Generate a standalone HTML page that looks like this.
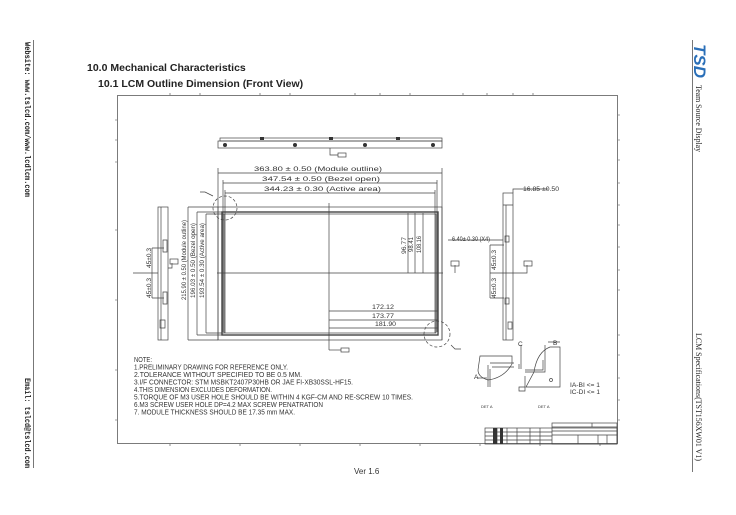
<!DOCTYPE html>
<html><head><meta charset="utf-8"><style>
html,body{margin:0;padding:0;background:#fff;}
body{width:736px;height:515px;overflow:hidden;position:relative;font-family:"Liberation Sans",sans-serif;}
.h{position:absolute;font-weight:bold;color:#222;white-space:nowrap;}
svg{position:absolute;left:0;top:0;}
</style></head><body>
<div class="h" style="left:87px;top:62px;font-size:10.5px;">10.0 Mechanical Characteristics</div>
<div class="h" style="left:98px;top:78px;font-size:10.5px;">10.1 LCM Outline Dimension (Front View)</div>
<svg width="736" height="515" viewBox="0 0 736 515" font-family="Liberation Sans, sans-serif">
<line x1="33.5" y1="40" x2="33.5" y2="468" stroke="#777" stroke-width="1"/>
<line x1="692.5" y1="40" x2="692.5" y2="472" stroke="#777" stroke-width="1"/>
<g font-family="Liberation Mono, monospace" font-size="8" fill="#222" font-weight="bold">
<text transform="translate(25,42) rotate(90)" textLength="155" lengthAdjust="spacingAndGlyphs">Website:  www.tslcd.com/www.lcdlcm.com</text>
<text transform="translate(25,378) rotate(90)" textLength="90" lengthAdjust="spacingAndGlyphs">Email:  tslcd@tslcd.com</text>
</g>
<g font-family="Liberation Serif, serif" font-size="8" fill="#222">
<text transform="translate(696,85) rotate(90)" textLength="67" lengthAdjust="spacingAndGlyphs">Team Source Display</text>
<text transform="translate(696,333) rotate(90)" textLength="128" lengthAdjust="spacingAndGlyphs">LCM Specifications(TST156XW01 V1)</text>
</g>
<text transform="translate(694,44) rotate(90)" font-size="17" font-weight="bold" font-style="italic" fill="#2a6fb8" textLength="34" lengthAdjust="spacingAndGlyphs">TSD</text>
<text x="354" y="474" font-size="8" fill="#333">Ver 1.6</text>

<g stroke="#444" fill="none" stroke-width="0.7">
<rect x="117.5" y="95.5" width="500" height="348"/>
<g stroke-width="0.6">
<path d="M170 95v-2M200 95v-2M260 95v-2M290 95v-2M355 95v-2M380 95v-2M410 95v-2M463 95v-2M487 95v-2M513 95v-2M533 95v-2"/>
<path d="M170 444v2M240 444v2M300 444v2M360 444v2M420 444v2M480 444v2M540 444v2M600 444v2"/>
<path d="M117 120h-2M117 140h-2M117 162h-2M117 230h-2M117 300h-2M117 370h-2M117 420h-2"/>
<path d="M618 115h2M618 140h2M618 160h2M618 183h2M618 205h2M618 225h2M618 247h2M618 270h2M618 290h2M618 335h2M618 355h2M618 378h2M618 400h2M618 420h2"/>
</g>
<rect x="220" y="138" width="222" height="3"/>
<rect x="218" y="141" width="224" height="7"/>
<path d="M330 148v7h8"/><rect x="338" y="153" width="8" height="4"/>
<path d="M218 173h224M223 183h214M225 193h210"/>
<path d="M218 168v172M442 168v172M223 180v152M437 180v152M225 190v143M435 190v143"/>
<rect x="218" y="207" width="224" height="133"/>
<rect x="222" y="212" width="216" height="123" stroke-width="1.4"/>
<rect x="224" y="214" width="212" height="119"/>
<path d="M188 207h30M197 212h25M206 214h18M188 340h30M197 335h25M206 333h18"/>
<path d="M188 207v133M197 212v123M206 214v119"/>
<path d="M329 203v147M217 273h226"/>
<path d="M329 350h12"/><rect x="341" y="348" width="8" height="4"/>
<path d="M408 213v60M415 213v60M423 213v60"/>
<path d="M329 311h109M329 320h109M329 328h109"/>
<circle cx="225" cy="208" r="12" stroke-dasharray="3,2"/>
<circle cx="437" cy="334" r="13" stroke-dasharray="3,2"/>
<path d="M213 196l-8-4h-5M451 345l4 4h6"/>
<rect x="158" y="207" width="10" height="133"/>
<path d="M161 207v133"/>
<path d="M163 240h4v12h-4zM163 292h4v12h-4zM160 320h5v8h-5z"/>
<path d="M158 273h-25M152 248h12M152 298h12M152 248v50"/>
<path d="M168 268h4v-5"/><rect x="170" y="259" width="8" height="5"/>
<rect x="503" y="193" width="10" height="147"/>
<path d="M506 205v135M503 205h10M513 193v-4h35"/>
<path d="M448 240h55M490 245h14M490 298h14M490 245v53M490 273h22M512 273h15v-8"/>
<rect x="524" y="261" width="8" height="5"/>
<path d="M455 273v-8"/><rect x="451" y="261" width="8" height="5"/>
<path d="M505 236h4v6h-4zM505 298h4v6h-4zM508 322h4v7h-4z"/>
<path d="M480 356h32v8q-8 14-24 16q-10-3-10-10z"/>
<path d="M490 363h24M488 365v22M492 367h22M490 369v18"/>
<path d="M521 345v24M519 369v-5"/>
<path d="M534 372q3-20 16-25h10v40h-34zM545 360v12h-20M543 360v10h-18M545 345v15M548 342h12"/>
<path d="M525 376v15h-6v-4h6"/>
<path d="M477 378h10"/>
<circle cx="551" cy="380" r="1.5"/>
<rect x="485" y="428" width="132" height="16"/>
<rect x="552" y="423" width="65" height="21"/>
<path d="M485 432h67M485 436h67M485 440h67M497 428v16M507 428v16M517 428v16M530 428v16M540 428v16M552 427h65M552 431h65M552 435h65M578 435v9M598 435v9M607 435v9M592 423v4"/>
</g>
<g fill="#333">
<rect x="493" y="428" width="4" height="16"/><rect x="500" y="428" width="3" height="16"/>
<circle cx="225" cy="145" r="2"/><circle cx="295" cy="145" r="2"/><circle cx="365" cy="145" r="2"/><circle cx="433" cy="145" r="2"/>
<rect x="260" y="137" width="4" height="3"/><rect x="329" y="137" width="4" height="3"/><rect x="396" y="137" width="4" height="3"/>
</g>
<g font-size="6.5" fill="#333">
<text x="254" y="171" textLength="128" lengthAdjust="spacingAndGlyphs">363.80 ± 0.50  (Module outline)</text>
<text x="262" y="181" textLength="118" lengthAdjust="spacingAndGlyphs">347.54 ± 0.50  (Bezel open)</text>
<text x="264" y="191" textLength="117" lengthAdjust="spacingAndGlyphs">344.23 ± 0.30  (Active area)</text>
<text transform="translate(186,300) rotate(-90)" textLength="80" lengthAdjust="spacingAndGlyphs">215.90 ± 0.50  (Module outline)</text>
<text transform="translate(195,298) rotate(-90)" textLength="75" lengthAdjust="spacingAndGlyphs">196.03 ± 0.50  (Bezel open)</text>
<text transform="translate(204,298) rotate(-90)" textLength="75" lengthAdjust="spacingAndGlyphs">193.54 ± 0.30  (Active area)</text>
<text transform="translate(406,254) rotate(-90)" textLength="17" lengthAdjust="spacingAndGlyphs">96.77</text>
<text transform="translate(413,252) rotate(-90)" textLength="15" lengthAdjust="spacingAndGlyphs">98.41</text>
<text transform="translate(421,253) rotate(-90)" textLength="17" lengthAdjust="spacingAndGlyphs">108.16</text>
<text x="372" y="309" textLength="22" lengthAdjust="spacingAndGlyphs">172.12</text>
<text x="372" y="318" textLength="22" lengthAdjust="spacingAndGlyphs">173.77</text>
<text x="375" y="326" textLength="21" lengthAdjust="spacingAndGlyphs">181.90</text>
<text transform="translate(151,268) rotate(-90)" textLength="20" lengthAdjust="spacingAndGlyphs">45±0.3</text>
<text transform="translate(151,298) rotate(-90)" textLength="20" lengthAdjust="spacingAndGlyphs">45±0.3</text>
<text transform="translate(496,270) rotate(-90)" textLength="20" lengthAdjust="spacingAndGlyphs">45±0.3</text>
<text transform="translate(496,298) rotate(-90)" textLength="20" lengthAdjust="spacingAndGlyphs">45±0.3</text>
<text x="523" y="191" textLength="36" lengthAdjust="spacingAndGlyphs">16.85 ±0.50</text>
<text x="452" y="241" textLength="38" lengthAdjust="spacingAndGlyphs">6.40± 0.30 (X4)</text>
<text x="570" y="387" textLength="30" lengthAdjust="spacingAndGlyphs">IA-BI &lt;= 1</text>
<text x="570" y="394" textLength="30" lengthAdjust="spacingAndGlyphs">IC-DI &lt;= 1</text>
<text x="474" y="379">A</text><text x="553" y="345">B</text><text x="518" y="346">C</text>
<text x="481" y="408" font-size="4">DET A</text><text x="538" y="408" font-size="4">DET A</text>
<text x="134" y="362" font-size="7" textLength="18" lengthAdjust="spacingAndGlyphs">NOTE:</text>
<g font-size="7">
<text x="134" y="369.5" textLength="154" lengthAdjust="spacingAndGlyphs">1.PRELIMINARY DRAWING FOR REFERENCE ONLY.</text>
<text x="134" y="377" textLength="168" lengthAdjust="spacingAndGlyphs">2.TOLERANCE WITHOUT SPECIFIED TO BE 0.5 MM.</text>
<text x="134" y="384.5" textLength="219" lengthAdjust="spacingAndGlyphs">3.I/F CONNECTOR: STM MSBKT2407P30HB OR JAE FI-XB30SSL-HF15.</text>
<text x="134" y="392" textLength="138" lengthAdjust="spacingAndGlyphs">4.THIS DIMENSION EXCLUDES DEFORMATION.</text>
<text x="134" y="399.5" textLength="279" lengthAdjust="spacingAndGlyphs">5.TORQUE OF M3 USER HOLE SHOULD BE WITHIN 4 KGF-CM AND RE-SCREW 10 TIMES.</text>
<text x="134" y="407" textLength="189" lengthAdjust="spacingAndGlyphs">6.M3 SCREW USER HOLE DP=4.2 MAX SCREW PENATRATION</text>
<text x="134" y="414.5" textLength="161" lengthAdjust="spacingAndGlyphs">7. MODULE THICKNESS SHOULD BE 17.35 mm MAX.</text>
</g>
</g>
</svg>
</body></html>
